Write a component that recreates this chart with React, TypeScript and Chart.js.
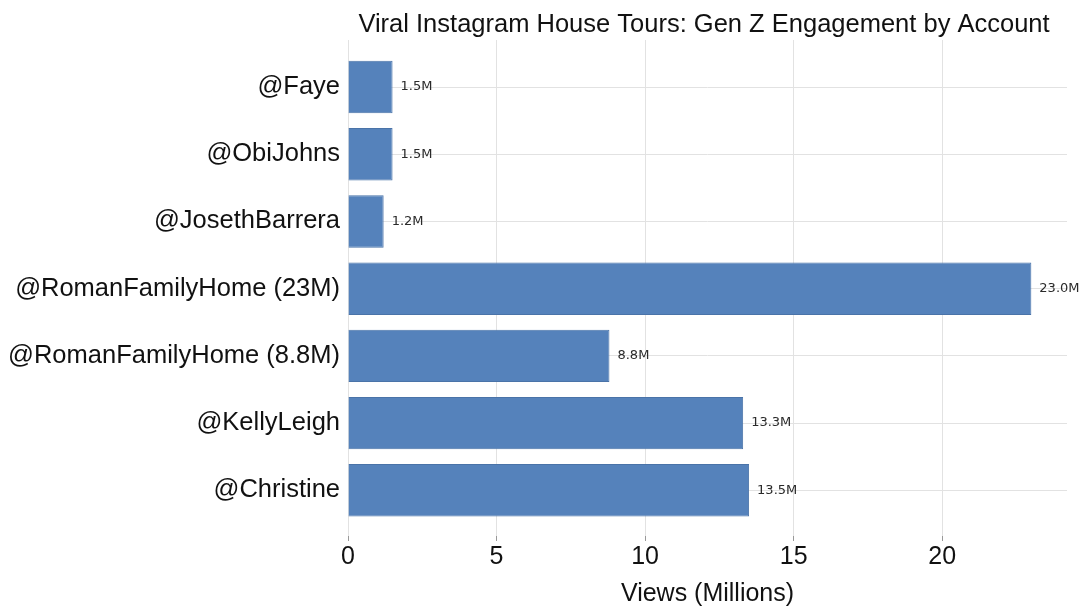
import React, { useEffect, useRef } from "react";
import { Chart, registerables } from "chart.js";

Chart.register(...registerables);

const TITLE = "Viral Instagram House Tours: Gen Z Engagement by Account";
const X_TITLE = "Views (Millions)";
const categories = [
  "@Faye",
  "@ObiJohns",
  "@JosethBarrera",
  "@RomanFamilyHome (23M)",
  "@RomanFamilyHome (8.8M)",
  "@KellyLeigh",
  "@Christine",
];
const views = [1.5, 1.5, 1.2, 23.0, 8.8, 13.3, 13.5];
const valueLabels = ["1.5M", "1.5M", "1.2M", "23.0M", "8.8M", "13.3M", "13.5M"];
const xTicks = [0, 5, 10, 15, 20];

const SANS = '"Liberation Sans", Arial, sans-serif';

const titlePlugin = {
  id: "centerTitle",
  afterDraw(chart: any) {
    const { ctx } = chart;
    ctx.save();
    ctx.font = `25.5px ${SANS}`;
    ctx.fillStyle = "#111";
    ctx.textAlign = "center";
    ctx.textBaseline = "alphabetic";
    ctx.fillText(TITLE, 704, 32);
    ctx.restore();
  },
};

const valueLabelPlugin = {
  id: "valueLabels",
  afterDatasetsDraw(chart: any) {
    const { ctx } = chart;
    const meta = chart.getDatasetMeta(0);
    ctx.save();
    ctx.font = '13px "DejaVu Sans", sans-serif';
    ctx.fillStyle = "#2a2a2a";
    ctx.textAlign = "left";
    ctx.textBaseline = "middle";
    meta.data.forEach((bar: any, i: number) => {
      ctx.fillText(valueLabels[i], bar.x + 8, bar.y);
    });
    ctx.restore();
  },
};

export default function App() {
  const ref = useRef<HTMLCanvasElement | null>(null);

  useEffect(() => {
    if (!ref.current) return;
    const chart = new Chart(ref.current, {
      type: "bar",
      data: {
        datasets: [
          {
            data: views.map((v, i) => ({ x: v, y: i })),
            backgroundColor: "#5582bb",
            borderColor: "#4a73a8",
            borderWidth: 1,
            barPercentage: 0.78,
            categoryPercentage: 1,
          },
        ],
      },
      options: {
        indexAxis: "y",
        animation: false,
        responsive: true,
        maintainAspectRatio: false,
        layout: { padding: { left: 0, right: 16, top: 40, bottom: 0 } },
        plugins: {
          legend: { display: false },
          title: { display: false },
          tooltip: { enabled: false },
        },
        scales: {
          x: {
            type: "linear",
            min: 0,
            max: 24.2,
            offset: false,
            afterBuildTicks: (scale: any) => {
              scale.ticks = xTicks.map((v) => ({ value: v }));
            },
            afterFit: (scale: any) => {
              scale.height = 70;
            },
            border: { display: false },
            grid: {
              offset: false,
              color: "#e2e2e2",
              lineWidth: 1,
              tickLength: 5,
              tickColor: "#999",
            },
            ticks: {
              font: { family: SANS, size: 25 },
              color: "#111",
              padding: 1,
              callback: (v: any) => String(v),
            },
            title: {
              display: true,
              text: X_TITLE,
              font: { family: SANS, size: 25 },
              color: "#111",
              padding: { top: 0, bottom: -3 },
            },
          },
          y: {
            type: "linear",
            reverse: true,
            min: -0.7,
            max: 6.68,
            offset: false,
            afterBuildTicks: (scale: any) => {
              scale.ticks = categories.map((_, i) => ({ value: i }));
            },
            afterFit: (scale: any) => {
              scale.width = 348;
            },
            border: { display: false },
            grid: {
              offset: false,
              color: "#e2e2e2",
              lineWidth: 1,
              drawTicks: false,
            },
            ticks: {
              autoSkip: false,
              font: { family: SANS, size: 25.5 },
              color: "#111",
              padding: 8,
              callback: (v: any) => categories[v] ?? "",
            },
          },
        },
      } as any,
      plugins: [titlePlugin, valueLabelPlugin],
    });
    return () => chart.destroy();
  }, []);

  return (
    <div style={{ position: "fixed", left: 0, top: 0, width: 1083, height: 606, background: "#fff" }}>
      <canvas ref={ref} />
    </div>
  );
}
